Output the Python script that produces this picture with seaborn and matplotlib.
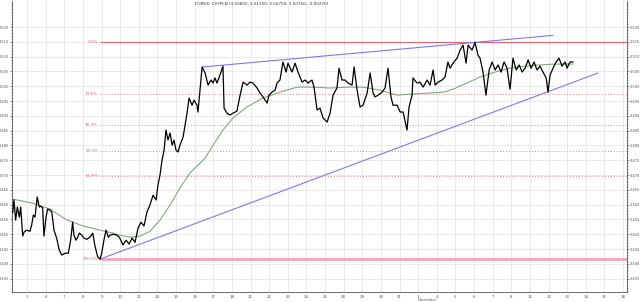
import numpy as np
import pandas as pd
import matplotlib
matplotlib.use("Agg")
import matplotlib.pyplot as plt
import seaborn as sns

# ---------------- data ----------------
title = "FOREX: CHFPLN (3.50850, 3.51150, 3.50750, 3.50750, -0.00270)"
day_labels = ["3", "4", "7", "8", "9", "10", "11", "14", "15", "16", "17", "18",
              "21", "22", "23", "24", "25", "28", "29", "30", "31", "1", "4", "5",
              "6", "7", "8", "11", "12", "13", "14", "15", "18"]
month_label = "November"
month_day_index = 21

# time in trading days (0 = first labelled day)
t = [-0.77, -0.70, -0.61, -0.52, -0.41, -0.34, -0.23, -0.16, -0.02, 0.16, 0.25, 0.34,
     0.43, 0.55, 0.66, 0.74, 0.84, 0.91, 1.02, 1.11, 1.23, 1.33, 1.45, 1.59, 1.73,
     1.86, 2.04, 2.22, 2.35, 2.45, 2.52, 2.63, 2.70, 2.81, 2.94, 3.06, 3.21, 3.38,
     3.53, 3.65, 3.80, 3.92, 4.01, 4.13, 4.24, 4.37, 4.46, 4.63, 4.82, 4.96,
     5.15, 5.32, 5.48, 5.64, 5.80, 5.96, 6.12, 6.28, 6.44, 6.60, 6.77, 6.93, 7.03,
     7.14, 7.25, 7.36, 7.46, 7.57, 7.68, 7.79, 7.89, 8.00, 8.11,
     8.21, 8.38, 8.59, 8.70, 8.86, 8.97, 9.13, 9.18, 9.40, 9.56, 9.72, 9.88, 9.99,
     10.09, 10.20, 10.36, 10.52, 10.58, 10.74, 10.90, 11.06, 11.27, 11.44, 11.60,
     11.81, 11.97, 12.13, 12.35, 12.51, 12.67, 12.89, 12.99, 13.15, 13.32, 13.42,
     13.58, 13.74, 13.91, 14.01, 14.23, 14.39, 14.55, 14.77, 14.93, 15.09, 15.30,
     15.41, 15.57, 15.73, 15.89, 16.11, 16.27, 16.43, 16.64, 16.75, 16.91, 17.07,
     17.23, 17.45, 17.56, 17.72, 17.88, 18.04, 18.26, 18.42, 18.58, 18.68, 18.85,
     19.06, 19.22, 19.38, 19.54, 19.65, 19.87, 20.03, 20.19, 20.40, 20.51, 20.67,
     20.72, 20.94, 21.10, 21.26, 21.48, 21.64, 21.80, 21.91, 22.07, 22.28, 22.44,
     22.60, 22.71, 22.87, 23.09, 23.25, 23.41, 23.57, 23.68, 23.89, 24.05, 24.21,
     24.32, 24.48, 24.64, 24.81, 24.97, 25.13, 25.29, 25.45, 25.61, 25.77, 25.93,
     26.09, 26.26, 26.42, 26.58, 26.74, 26.90, 27.06, 27.22, 27.38, 27.54, 27.70,
     27.87, 27.97, 28.08, 28.24, 28.40, 28.56, 28.72, 28.89, 28.99, 29.15, 29.32]
price = [3.4572, 3.4616, 3.4548, 3.4592, 3.4558, 3.4592, 3.4494, 3.4507, 3.4514, 3.4510,
         3.4531, 3.4565, 3.4558, 3.4626, 3.4592, 3.4595, 3.4589, 3.4494, 3.4558, 3.4585,
         3.4582, 3.4575, 3.4514, 3.4487, 3.4447, 3.4430, 3.4436, 3.4436, 3.4483, 3.4541,
         3.4497, 3.4480, 3.4487, 3.4504, 3.4497, 3.4487, 3.4483, 3.4490, 3.4504, 3.4460,
         3.4423, 3.4416, 3.4436, 3.4480, 3.4514, 3.4490, 3.4497, 3.4500, 3.4497, 3.4490,
         3.4464, 3.4480, 3.4467, 3.4487, 3.4473, 3.4521, 3.4541, 3.4528, 3.4575, 3.4599,
         3.4632, 3.4616, 3.4666, 3.4700, 3.4751, 3.4784, 3.4852, 3.4818, 3.4842, 3.4801,
         3.4818, 3.4784, 3.4778,
         3.4801, 3.4828, 3.4909, 3.4960, 3.4936, 3.4953, 3.4936, 3.4913, 3.5065, 3.5045,
         3.5004, 3.5021, 3.5011, 3.5028, 3.5011, 3.5038, 3.5068, 3.4926, 3.4909, 3.4903,
         3.4909, 3.4916, 3.4970, 3.5014, 3.5004, 3.5014, 3.5011, 3.4994, 3.4977, 3.4964,
         3.4943, 3.4970, 3.4980, 3.4987, 3.5011, 3.5021, 3.5082, 3.5048, 3.5078, 3.5048,
         3.5078, 3.5048, 3.5014, 3.5021, 3.5011, 3.5021, 3.4997, 3.4920, 3.4926, 3.4893,
         3.4879, 3.4909, 3.4970, 3.4994, 3.5061, 3.5021, 3.5021, 3.5011, 3.5004, 3.5065,
         3.4987, 3.4930, 3.4936, 3.4977, 3.5045, 3.4977, 3.4964, 3.4970, 3.4980, 3.4994,
         3.5061, 3.4964, 3.4936, 3.4936, 3.4913, 3.4913, 3.4852, 3.4930, 3.4970, 3.5028,
         3.5011, 3.5014, 3.4997, 3.5021, 3.5004, 3.5055, 3.5004, 3.5014, 3.5021, 3.5031,
         3.5082, 3.5061, 3.5078, 3.5095, 3.5122, 3.5139, 3.5078, 3.5139, 3.5122, 3.5148,
         3.5105, 3.5095, 3.5048, 3.4970, 3.5055, 3.5082, 3.5055, 3.5072, 3.5048, 3.5082,
         3.5061, 3.4990, 3.5095, 3.5055, 3.5072, 3.5048, 3.5061, 3.5089, 3.5061, 3.5082,
         3.5055, 3.5068, 3.5048, 3.5028, 3.4980, 3.5038, 3.5061, 3.5082, 3.5095, 3.5068,
         3.5082, 3.5061, 3.5082, 3.5082]

ma_t = [-0.77, 0.32, 1.23, 2.15, 3.01, 3.92, 4.62, 4.99, 5.53, 6.07, 6.60, 7.14, 7.68,
        8.21, 8.75, 9.56, 9.99, 10.52, 11.06, 11.81, 12.67, 13.58, 14.50, 15.36, 16.27,
        17.18, 18.04, 18.95, 19.87, 20.72, 21.64, 22.34, 22.87, 23.62, 24.32, 25.13,
        25.93, 26.74, 27.54, 28.35, 29.32]
ma_price = [3.4619, 3.4605, 3.4585, 3.4548, 3.4528, 3.4514, 3.4504, 3.4497, 3.4490,
            3.4494, 3.4510, 3.4548, 3.4599, 3.4656, 3.4707, 3.4757, 3.4801, 3.4852,
            3.4893, 3.4930, 3.4960, 3.4980, 3.4997, 3.4997, 3.4994, 3.4997, 3.4997,
            3.4987, 3.4970, 3.4974, 3.4977, 3.4980, 3.4990, 3.5011, 3.5031, 3.5048,
            3.5061, 3.5068, 3.5072, 3.5075, 3.5075]

upper_trend_t = [9.40, 28.24]
upper_trend_p = [3.5065, 3.5172]
lower_trend_t = [3.92, 30.66]
lower_trend_p = [3.4416, 3.5045]

fib_high = 3.5148
fib_low = 3.4416
fib_start_t = 3.92
fib_levels = [0.0, 23.6, 38.2, 50.0, 61.8, 100.0]
fib_labels = ["0.0%", "23.6%", "38.2%", "50.0%", "61.8%", "100.0%"]

y_ticks = [3.435, 3.440, 3.445, 3.450, 3.455, 3.460, 3.465, 3.470, 3.475, 3.480,
           3.485, 3.490, 3.495, 3.500, 3.505, 3.510, 3.515, 3.520]

# ---------------- plot ----------------
sns.set_style("white")
plt.rcParams['font.family'] = ['DejaVu Sans']

fig = plt.figure(figsize=(6.4, 3.02), dpi=100)
ax = fig.add_axes([12 / 640, 10 / 302, 615 / 640, 291 / 302])

xmin, xmax = -0.805, 32.21
ymin, ymax = 3.4305, 3.5288
ax.set_xlim(xmin, xmax)
ax.set_ylim(ymin, ymax)

# grid
for i in range(len(day_labels)):
    ax.axvline(i, color="#e6e6e6", lw=0.6, zorder=0)
for v in y_ticks:
    ax.axhline(v, color="#e6e6e6", lw=0.6, zorder=0)

# fibonacci levels
rng = fib_high - fib_low
for lev, lab in zip(fib_levels, fib_labels):
    val = fib_high - rng * lev / 100.0
    if lev == 0.0:
        ax.hlines(val, fib_start_t, xmax, color="#e8606e", lw=0.8, zorder=1)
    elif lev == 100.0:
        ax.hlines(val, fib_start_t, xmax, color="#f5a3b5", lw=2.0, zorder=1)
    else:
        ax.hlines(val, fib_start_t, xmax, color="#ee8090", lw=0.7,
                  linestyles=(0, (1, 2)), zorder=1)
    ax.text(fib_start_t - 0.1, val, lab, color="#e8606e", fontsize=3,
            ha="right", va="center")

# moving average
sns.lineplot(x=ma_t, y=ma_price, ax=ax, color="#7fa97a", lw=0.8,
             sort=False, estimator=None, zorder=2)
# trendlines
sns.lineplot(x=upper_trend_t, y=upper_trend_p, ax=ax, color="#7b7be8", lw=0.8,
             sort=False, estimator=None, zorder=2)
sns.lineplot(x=lower_trend_t, y=lower_trend_p, ax=ax, color="#7b7be8", lw=0.8,
             sort=False, estimator=None, zorder=2)
# price
sns.lineplot(x=t, y=price, ax=ax, color="black", lw=0.9,
             sort=False, estimator=None, zorder=3)

# axes styling
for s in ["left", "right", "bottom"]:
    ax.spines[s].set_color("#555555")
    ax.spines[s].set_linewidth(0.6)
ax.spines["top"].set_visible(False)

ax.set_yticks(y_ticks)
ax.set_yticklabels([f"{v:.3f}" for v in y_ticks])
ax.set_yticks(np.arange(3.431, 3.5285, 0.001), minor=True)
ax.tick_params(axis="y", which="both", left=True, right=True, labelleft=True,
               labelright=True, labelsize=2.6, pad=0.5, colors="#555555",
               direction="out")
ax.tick_params(axis="y", which="major", length=1.5, width=0.5)
ax.tick_params(axis="y", which="minor", length=0.8, width=0.4)

ax.set_xticks(range(len(day_labels)))
ax.set_xticklabels(day_labels)
ax.tick_params(axis="x", labelsize=2.8, pad=0.5, length=1.5, width=0.5,
               colors="#555555")
ax.set_xlabel("")
ax.set_ylabel("")

fig.text(262 / 640, 1 - 4 / 302, title, fontsize=3, ha="center", va="center",
         color="#333333")
ax.text(month_day_index - 0.05, -0.022, month_label,
        transform=ax.get_xaxis_transform(),
        fontsize=2.6, ha="left", va="top", color="#555555")

fig.savefig("out.png", dpi=100)
